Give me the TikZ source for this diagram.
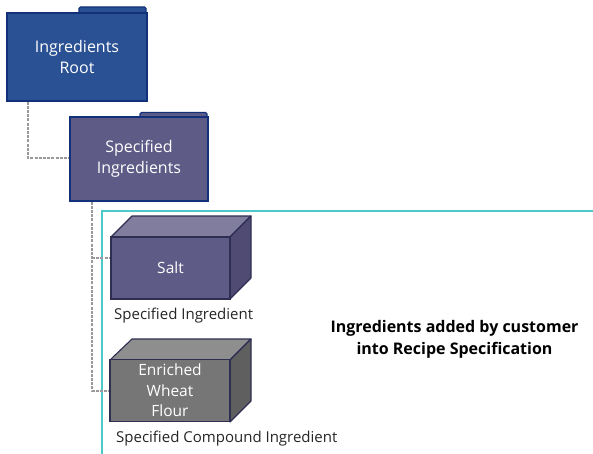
\documentclass[tikz,border=0pt]{standalone}
\usepackage{fontspec}
\setmainfont{Open Sans}
\definecolor{rootblue}{HTML}{2B5195}
\definecolor{rootline}{HTML}{12317A}
\definecolor{specpurple}{HTML}{5F5B87}
\definecolor{cubeline}{HTML}{2E2E52}
\definecolor{cubetop}{HTML}{817D9F}
\definecolor{cubeside}{HTML}{4F4B73}
\definecolor{floursq}{HTML}{767676}
\definecolor{flourtop}{HTML}{8E8E8E}
\definecolor{flourside}{HTML}{5F5F5F}
\definecolor{teal}{HTML}{4CC8C8}
\definecolor{conn}{HTML}{999999}
\tikzset{
  folder/.style={draw=rootline,line width=1.1pt,text=white,align=center,inner sep=0pt,font=\fontsize{16}{21}\selectfont},
  cubefront/.style={draw=#1,line width=1.1pt,text=white,align=center,inner sep=0pt,minimum width=119pt,minimum height=62pt,font=\fontsize{15.5}{20.5}\selectfont},
  cubeface/.style={draw=cubeline,line width=1.1pt,line join=round},
  link/.style={draw=conn,dashed,dash pattern=on 3pt off 1.2pt,line width=1.1pt},
  caption/.style={inner sep=0pt,text=black!85,font=\fontsize{15}{18}\selectfont},
  note/.style={inner sep=0pt,align=center,font=\bfseries\fontsize{16}{21.5}\selectfont}
}
\begin{document}
\begin{tikzpicture}[x=1pt,y=-1pt]
\useasboundingbox (0,0) rectangle (593,454);
\fill[white] (0,0) rectangle (593,454);
% frame
\draw[teal,line width=1.3pt] (594,211) -- (102,211) -- (102,456);
% connector anchors
\coordinate (j1) at (28,158);
\coordinate (j2) at (92,258);
\coordinate (j3) at (92,391);
% tabs
\draw[draw=rootline,fill=rootblue,line width=1.1pt,rounded corners=1.5pt] (79,14) -- (79,7) -- (146,7) -- (146,14) -- cycle;
\draw[draw=rootline,fill=specpurple,line width=1.1pt,rounded corners=1.5pt] (140,118) -- (140,112.5) -- (207,112.5) -- (207,118) -- cycle;
% folders
\node[folder,fill=rootblue,minimum width=140pt,minimum height=88pt] (root) at (77,57) {Ingredients\\Root};
\node[folder,fill=specpurple,minimum width=138pt,minimum height=84pt] (spec) at (139,159) {Specified\\Ingredients};
% cube salt
\filldraw[cubeface,fill=cubetop] (111,237) -- (132,216) -- (251,216) -- (230,237) -- cycle;
\filldraw[cubeface,fill=cubeside] (230,237) -- (251,216) -- (251,278) -- (230,299) -- cycle;
\node[cubefront=cubeline,fill=specpurple] (salt) at (170.5,268) {Salt};
% cube flour
\filldraw[cubeface,fill=flourtop] (110,360) -- (132,339) -- (251,339) -- (230,360) -- cycle;
\filldraw[cubeface,fill=flourside] (230,360) -- (251,339) -- (251,401) -- (230,422) -- cycle;
\node[cubefront=cubeline,fill=floursq,minimum width=120pt] (flour) at (170,390.5) {Enriched\\Wheat\\Flour};
% connectors
\draw[link] (root.south -| j1) -- (j1) -- (j1 -| spec.west);
\draw[link] (spec.south -| j2) -- (j3) -- (flour.west |- j3);
\draw[link] (j2) -- (salt.west |- j2);
% text
\node[caption,anchor=west] (cap1) at (114,315.5) {Specified Ingredient};
\node[caption,anchor=west] (cap2) at (116,439) {Specified Compound Ingredient};
\node[note] (note) at (454.5,339.5) {Ingredients added by customer\\into Recipe Specification};
\end{tikzpicture}
\end{document}
